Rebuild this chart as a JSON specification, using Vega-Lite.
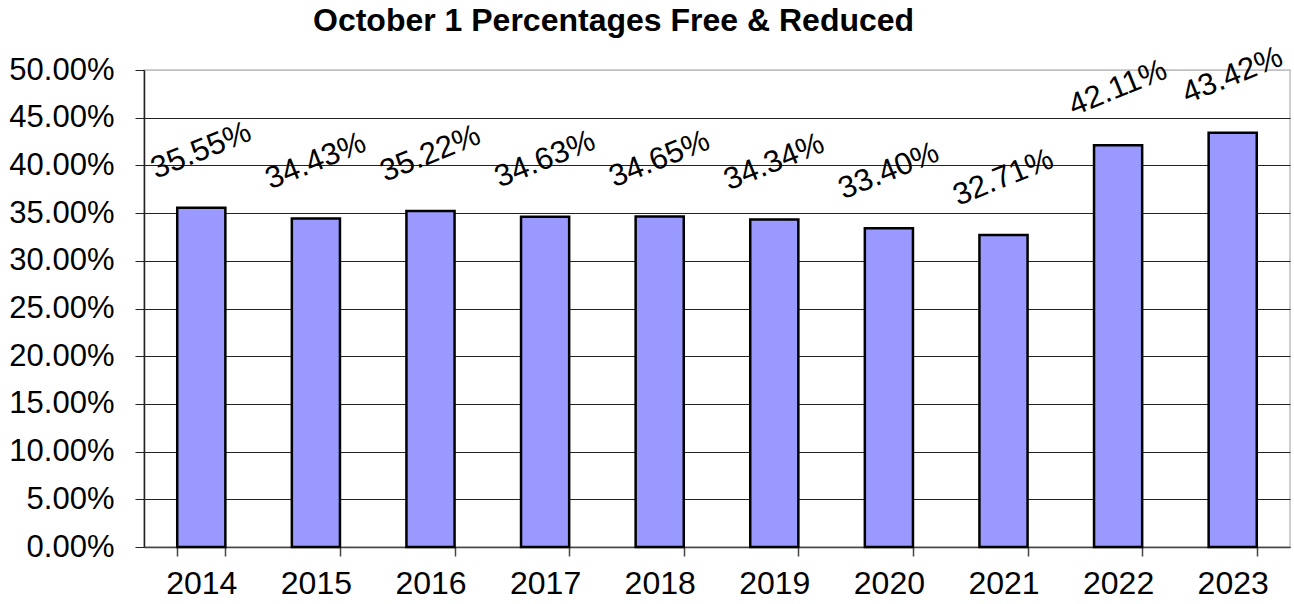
{
  "$schema": "https://vega.github.io/schema/vega-lite/v6.json",
  "width": 1146,
  "height": 477,
  "autosize": "none",
  "padding": {"left": 144, "top": 70, "right": 4, "bottom": 57},
  "background": "#ffffff",
  "title": {
    "text": "October 1 Percentages Free & Reduced",
    "anchor": "start",
    "frame": "group",
    "dx": 169,
    "offset": -22,
    "baseline": "alphabetic",
    "font": "Liberation Sans",
    "fontSize": 32,
    "fontWeight": "bold",
    "color": "#000000"
  },
  "config": {
    "view": {"stroke": "#c0c0c0", "strokeWidth": 1.5},
    "font": "Liberation Sans"
  },
  "data": {
    "values": [
      {"year": "2014", "pct": 0.3555},
      {"year": "2015", "pct": 0.3443},
      {"year": "2016", "pct": 0.3522},
      {"year": "2017", "pct": 0.3463},
      {"year": "2018", "pct": 0.3465},
      {"year": "2019", "pct": 0.3434},
      {"year": "2020", "pct": 0.3340},
      {"year": "2021", "pct": 0.3271},
      {"year": "2022", "pct": 0.4211},
      {"year": "2023", "pct": 0.4342}
    ]
  },
  "encoding": {
    "x": {
      "field": "year",
      "type": "ordinal",
      "scale": {"paddingInner": 0.58, "paddingOuter": 0.29},
      "axis": {
        "title": null,
        "labelAngle": 0,
        "labelFont": "Liberation Sans",
        "labelFontSize": 32,
        "labelColor": "#000000",
        "labelPadding": 12,
        "tickBand": "extent",
        "tickSize": 9,
        "tickColor": "#444444",
        "domainColor": "#444444",
        "domainWidth": 1.5,
        "tickWidth": 1.5
      }
    },
    "y": {
      "field": "pct",
      "type": "quantitative",
      "scale": {"domain": [0, 0.5], "nice": false},
      "axis": {
        "title": null,
        "format": ".2%",
        "values": [0, 0.05, 0.1, 0.15, 0.2, 0.25, 0.3, 0.35, 0.4, 0.45, 0.5],
        "labelFont": "Liberation Sans",
        "labelFontSize": 31,
        "labelColor": "#000000",
        "labelPadding": 21,
        "tickSize": 9,
        "tickColor": "#222222",
        "domainColor": "#222222",
        "domainWidth": 1.5,
        "grid": true,
        "gridColor": {"condition": {"test": "datum.value >= 0.5", "value": "#c0c0c0"}, "value": "#222222"},
        "gridWidth": 1.2
      }
    }
  },
  "layer": [
    {
      "mark": {"type": "bar", "fill": "#9999ff", "stroke": "#000000", "strokeWidth": 2.5}
    },
    {
      "mark": {
        "type": "text",
        "angle": 338,
        "align": "center",
        "baseline": "middle",
        "yOffset": -57,
        "font": "Liberation Sans",
        "fontSize": 31,
        "color": "#000000"
      },
      "encoding": {
        "text": {"field": "pct", "type": "quantitative", "format": ".2%"}
      }
    }
  ]
}
